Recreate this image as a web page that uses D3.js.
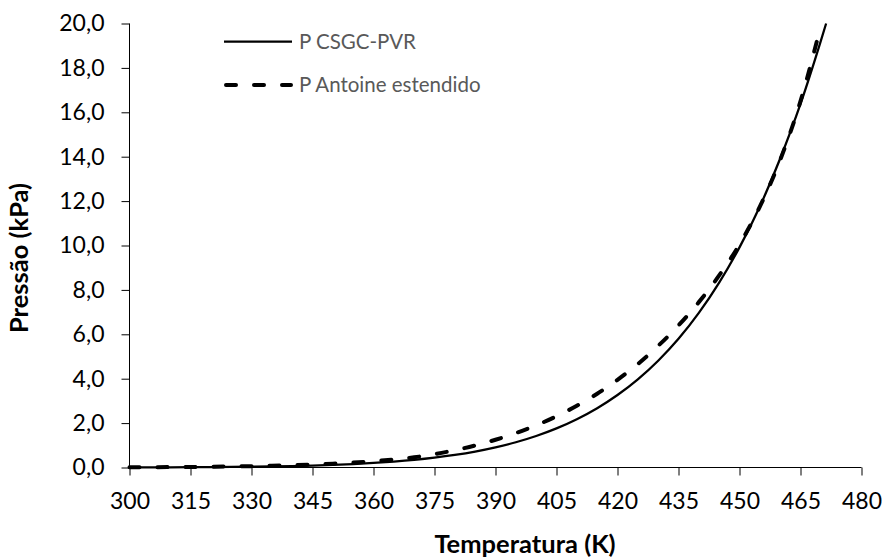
<!DOCTYPE html>
<html>
<head>
<meta charset="utf-8">
<script src="https://cdn.jsdelivr.net/npm/d3@7"></script>
<style>
  html, body { margin: 0; padding: 0; background: #fff; }
  svg { display: block; }
  text { font-family: Lato, "Open Sans", sans-serif; }
</style>
</head>
<body>
<svg id="chart" width="883" height="558"></svg>
<script>
// ---- data ----
const tempsCSGC = [300,305,310,315,320,325,330,335,340,345,350,355,360,365,370,375,380,385,390,395,400,405,410,415,420,425,430,435,440,445,450,455,460,465,470,471.3];
const pCSGC = [0.004,0.006,0.009,0.013,0.018,0.025,0.035,0.048,0.065,0.087,0.117,0.155,0.203,0.265,0.343,0.442,0.565,0.717,0.906,1.137,1.419,1.761,2.175,2.672,3.265,3.971,4.811,5.80,6.965,8.33,9.915,11.76,13.92,16.38,19.22,20.0];
const tempsAntoine = [300,305,310,315,320,325,330,335,340,345,350,355,360,365,370,375,380,385,390,395,400,405,410,415,420,425,430,435,440,445,450,455,460,465,469.8];
const pAntoine = [0.010,0.013,0.018,0.025,0.034,0.046,0.061,0.080,0.104,0.135,0.174,0.222,0.283,0.36,0.46,0.60,0.78,0.99,1.25,1.55,1.90,2.31,2.78,3.32,3.95,4.66,5.48,6.40,7.45,8.65,10.05,11.75,13.85,16.50,19.75];
const seriesNames = ["P CSGC-PVR", "P Antoine estendido"];
const xTicks = [300,315,330,345,360,375,390,405,420,435,450,465,480];
const yTicks = [0,2,4,6,8,10,12,14,16,18,20];
const xTitle = "Temperatura (K)";
const yTitle = "Pressão (kPa)";

// ---- layout ----
const svg = d3.select("#chart");
const pLeft = 129.5, pRight = 861.5, pTop = 23.5, pBottom = 467.5;
const x = d3.scaleLinear().domain([300, 480]).range([pLeft, pRight]);
const y = d3.scaleLinear().domain([0, 20]).range([pBottom, pTop]);
const fmt = v => d3.format(".1f")(v).replace(".", ",");

// y axis
const yAxis = svg.append("g").attr("transform", `translate(${pLeft},0)`)
  .call(d3.axisLeft(y).tickValues(yTicks).tickFormat(fmt).tickSize(8).tickPadding(17));
// x axis
const xAxis = svg.append("g").attr("transform", `translate(0,${pBottom})`)
  .call(d3.axisBottom(x).tickValues(xTicks).tickFormat(d3.format("d")).tickSize(8).tickPadding(17));
[yAxis, xAxis].forEach(g => {
  g.select(".domain").attr("stroke", "#000").attr("stroke-width", 1);
  g.selectAll(".tick line").attr("stroke", "#000").attr("stroke-width", 1);
  g.selectAll(".tick text").attr("font-size", 23).attr("fill", "#000")
    .style("font-family", "Lato, 'Open Sans', sans-serif");
});
yAxis.select(".domain").attr("d", `M0,${pBottom}V${pTop}`);
xAxis.select(".domain").attr("d", `M${pLeft},0H${pRight}`);

// lines
const lineGen = d3.line().x(d => x(d[0])).y(d => y(d[1])).curve(d3.curveMonotoneX);
const solidData = tempsCSGC.map((t, i) => [t, pCSGC[i]]);
const dashData = tempsAntoine.map((t, i) => [t, pAntoine[i]]);

svg.append("path").datum(solidData).attr("d", lineGen)
  .attr("fill", "none").attr("stroke", "#000").attr("stroke-width", 2.25);
svg.append("path").datum(dashData).attr("d", lineGen)
  .attr("fill", "none").attr("stroke", "#000").attr("stroke-width", 4)
  .attr("stroke-dasharray", "10,18").attr("stroke-linecap", "round");

// legend
const legend = svg.append("g");
const legY = [41.5, 85];
legend.append("line").attr("x1", 224).attr("x2", 292).attr("y1", legY[0]).attr("y2", legY[0])
  .attr("stroke", "#000").attr("stroke-width", 2.25);
legend.append("line").attr("x1", 226).attr("x2", 291).attr("y1", legY[1]).attr("y2", legY[1])
  .attr("stroke", "#000").attr("stroke-width", 4)
  .attr("stroke-dasharray", "10,18").attr("stroke-linecap", "round");
seriesNames.forEach((n, i) => {
  legend.append("text").attr("x", 299).attr("y", legY[i] + 7.2)
    .attr("font-size", 20.5).attr("fill", "#595959").text(n);
});

// axis titles
svg.append("text").attr("x", 525).attr("y", 553).attr("text-anchor", "middle")
  .attr("font-size", 25.5).attr("font-weight", "bold").attr("fill", "#000").text(xTitle);
svg.append("text").attr("transform", "translate(28,258) rotate(-90)").attr("text-anchor", "middle")
  .attr("font-size", 25.5).attr("font-weight", "bold").attr("fill", "#000").text(yTitle);
</script>
</body>
</html>
